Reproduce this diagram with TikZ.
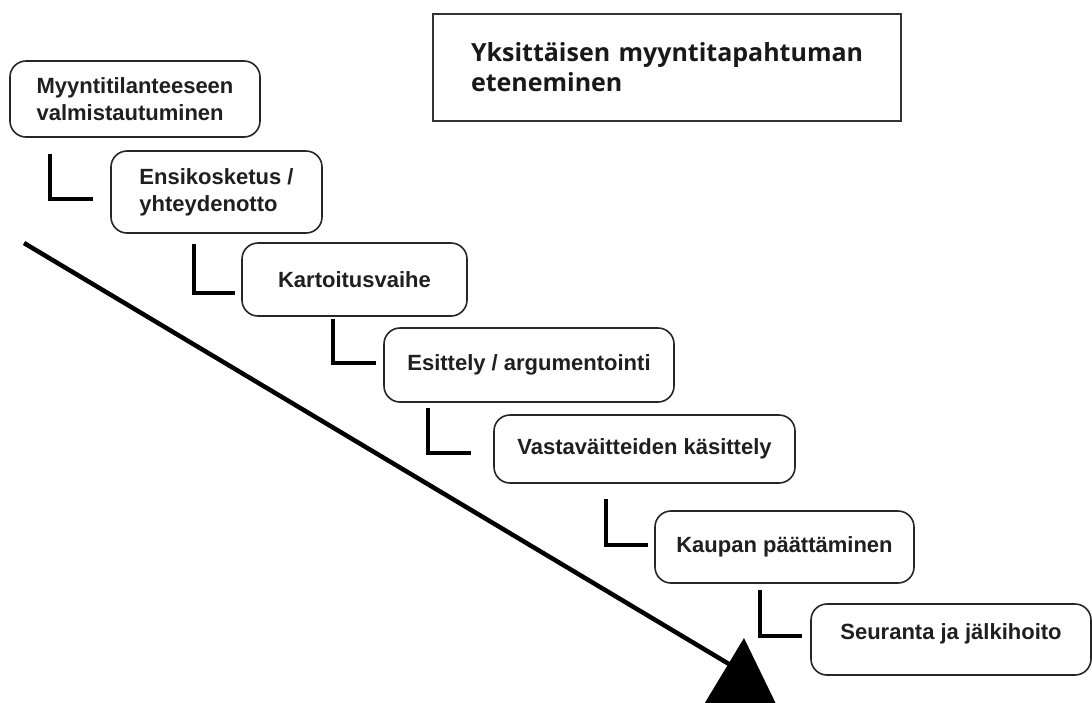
\documentclass[tikz,border=0pt]{standalone}
\usepackage{fontspec}
\setmainfont{Liberation Sans}
\newfontfamily\titlefont{Open Sans}
\usetikzlibrary{calc}
\begin{document}
\begin{tikzpicture}[x=1pt,y=-1pt,
  stepbox/.style={draw=black!85, line width=1.6pt, rounded corners=16pt, fill=white,
    inner sep=0pt, font=\fontsize{22}{27}\selectfont\bfseries, text=black!88, align=left},
  titlebox/.style={draw=black!80, line width=2pt, fill=white, inner ysep=0pt, inner xsep=38pt,
    minimum height=107pt, text width=392pt, align=left,
    font=\titlefont\fontsize{25}{30}\selectfont\bfseries, text=black!90},
  lconn/.style={line width=4.5pt, line join=miter, line cap=butt},
  mainline/.style={line width=4.5pt},
]
\useasboundingbox (0,0) rectangle (1092,702);
\clip (0,0) rectangle (1092,702);

% title
\node[titlebox] (title) at (667,67) {\mbox{Yksittäisen myyntitapahtuman}\\\mbox{eteneminen}};

% steps
\node[stepbox, minimum width=250pt, minimum height=76pt] (b1) at (135,99) {Myyntitilanteeseen\\valmistautuminen};
\node[stepbox, minimum width=211pt, minimum height=82pt] (b2) at (216.5,192) {Ensikosketus /\\yhteydenotto};
\node[stepbox, minimum width=225pt, minimum height=73pt] (b3) at (354.5,279.5) {Kartoitusvaihe};
\node[stepbox, minimum width=290pt, minimum height=74pt] (b4) at (529,365) {Esittely / argumentointi};
\node[stepbox, minimum width=301pt, minimum height=68pt] (b5) at (644.5,449) {Vastaväitteiden käsittely};
\node[stepbox, minimum width=259pt, minimum height=72pt] (b6) at (784.5,547) {Kaupan päättäminen};
\node[stepbox, minimum width=280pt, minimum height=71pt] (b7) at (951,639.5) {\raisebox{16pt}{Seuranta ja jälkihoito}};

% L connectors
\coordinate (l1a) at (50,154);  \coordinate (l1b) at (93,199);
\coordinate (l2a) at (194,244); \coordinate (l2b) at (235,293);
\coordinate (l3a) at (333,319); \coordinate (l3b) at (376,363);
\coordinate (l4a) at (428,408); \coordinate (l4b) at (471,453);
\coordinate (l5a) at (606,499); \coordinate (l5b) at (648,545);
\coordinate (l6a) at (760,590); \coordinate (l6b) at (802,636);
\foreach \i in {1,...,6} {\draw[lconn] (l\i a) |- (l\i b);}

% main arrow
\coordinate (start) at (24,243);
\coordinate (lineend) at (734,667);
\coordinate (tip) at (744,638);
\coordinate (baseL) at (703,706);
\coordinate (baseR) at (777,706);
\draw[mainline] (start) -- (lineend);
\fill (tip) -- (baseL) -- (baseR) -- cycle;
\end{tikzpicture}
\end{document}
